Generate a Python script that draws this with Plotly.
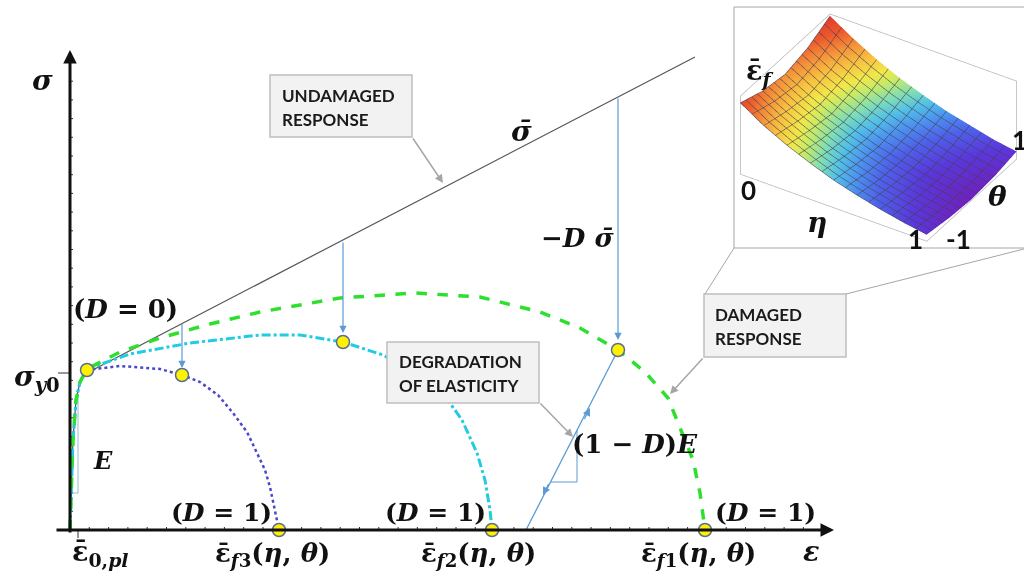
import numpy as np
import plotly.graph_objects as go

# ---------------- data (strain eps, stress sigma in arbitrary units) ----------------
# undamaged (effective) response sigma-bar
eps_und = [0, 0.01, 0.03, 0.06, 0.10, 0.17, 6.25]
sig_und = [0, 0.40, 0.90, 1.30, 1.48, 1.57, 4.73]

# damaged response 1 (green dashed) -> eps_f1
eps_d1 = [0, 0.01, 0.03, 0.06, 0.10, 0.17, 0.50, 0.90, 1.40, 1.90, 2.70, 3.45, 4.10,
          4.70, 5.10, 5.48, 5.75, 5.98, 6.10, 6.23, 6.30, 6.35]
sig_d1 = [0, 0.40, 0.90, 1.30, 1.48, 1.61, 1.78, 1.92, 2.06, 2.18, 2.32, 2.37, 2.33,
          2.18, 2.02, 1.80, 1.58, 1.32, 1.03, 0.70, 0.37, 0]

# damaged response 2 (cyan dash-dot) -> eps_f2
eps_d2 = [0, 0.01, 0.03, 0.06, 0.10, 0.17, 0.60, 1.20, 1.90, 2.30, 2.73, 3.13, 3.50,
          3.75, 3.92, 4.07, 4.15, 4.20, 4.22]
sig_d2 = [0, 0.40, 0.90, 1.30, 1.48, 1.61, 1.76, 1.87, 1.95, 1.95, 1.88, 1.75, 1.54,
          1.34, 1.10, 0.77, 0.50, 0.20, 0]

# damaged response 3 (blue dotted) -> eps_f3
eps_d3 = [0, 0.01, 0.03, 0.06, 0.10, 0.17, 0.50, 0.90, 1.12, 1.30, 1.48, 1.63, 1.77,
          1.87, 1.95, 2.00, 2.07, 2.09]
sig_d3 = [0, 0.40, 0.90, 1.30, 1.48, 1.60, 1.64, 1.61, 1.55, 1.48, 1.35, 1.17, 0.98,
          0.77, 0.60, 0.43, 0.10, 0]

# highlighted states (yellow markers)
eps_pts = [0.17, 1.12, 2.73, 5.48, 2.09, 4.22, 6.35]
sig_pts = [1.60, 1.55, 1.88, 1.80, 0, 0, 0]

# damage drops  -D*sigma_bar  (from undamaged line down to damaged state)
eps_drop = [1.12, 2.73, 5.48]
sig_drop_top = [2.08, 2.89, 4.33]
sig_drop_tip = [1.62, 1.97, 1.90]

# elastic unloading with degraded modulus (1-D)E
eps_unl = [5.48, 4.56]
sig_unl = [1.80, 0.0]

# slope triangles
eps_triE = [0.02, 0.08, 0.08]
sig_triE = [0.37, 0.37, 1.35]
eps_triD = [4.81, 5.07, 5.07]
sig_triD = [0.48, 0.48, 1.00]

# inset surface eps_f(eta, theta)
eta_vals = [0, 0.125, 0.25, 0.375, 0.5, 0.625, 0.75, 0.875, 1.0]
theta_vals = [-1, -0.5, 0, 0.5, 1]
epsf_table = [
    [0.95, 0.86, 0.82, 0.88, 1.00],
    [0.80, 0.73, 0.69, 0.74, 0.85],
    [0.68, 0.62, 0.58, 0.63, 0.72],
    [0.58, 0.52, 0.49, 0.53, 0.61],
    [0.49, 0.44, 0.41, 0.45, 0.52],
    [0.42, 0.37, 0.35, 0.38, 0.44],
    [0.36, 0.32, 0.29, 0.32, 0.38],
    [0.31, 0.27, 0.25, 0.27, 0.32],
    [0.27, 0.23, 0.21, 0.23, 0.28],
]

# ---------------- layout helpers (pixel placement -> data coords) ----------------
X0, Y0, S = 70, 530, 100.0
def dx(px):
    return (px - X0) / S
def dy(py):
    return (Y0 - py) / S

SERIF = "DejaVu Serif"
SANS = "Lato"
BLUE = "#5B9BD5"
GRAY = "#A6A6A6"

fig = go.Figure()

# axis ticks
tk_x, tk_y = [], []
for e in np.arange(0.193, 7.5, 0.193):
    tk_x += [e, e, None]
    tk_y += [0, 0.03, None]
for s in np.arange(0.187, 4.6, 0.187):
    tk_x += [0, 0.03, None]
    tk_y += [s, s, None]
tk_x += [dx(58), 0, None, dx(78), dx(78), None]
tk_y += [dy(373), dy(373), None, 0, dy(538), None]
fig.add_trace(go.Scatter(x=tk_x, y=tk_y, mode="lines", line=dict(color="#333", width=1),
                         hoverinfo="skip", showlegend=False))

# undamaged
fig.add_trace(go.Scatter(x=eps_und, y=sig_und, mode="lines",
                         line=dict(color="#555555", width=1.2), showlegend=False))
# slope triangles & unloading
fig.add_trace(go.Scatter(x=eps_triE, y=sig_triE, mode="lines",
                         line=dict(color="#9DB8D8", width=1), showlegend=False))
fig.add_trace(go.Scatter(x=eps_triD, y=sig_triD, mode="lines",
                         line=dict(color=BLUE, width=1), showlegend=False))
fig.add_trace(go.Scatter(x=eps_unl, y=sig_unl, mode="lines",
                         line=dict(color=BLUE, width=1.3), showlegend=False))
# damaged curves
fig.add_trace(go.Scatter(x=eps_d3, y=sig_d3, mode="lines",
                         line=dict(color="#4B48C8", width=2.5, dash="dot"), showlegend=False))
fig.add_trace(go.Scatter(x=eps_d2, y=sig_d2, mode="lines",
                         line=dict(color="#22CCE0", width=3, dash="dashdot"), showlegend=False))
fig.add_trace(go.Scatter(x=eps_d1, y=sig_d1, mode="lines",
                         line=dict(color="#2EE02E", width=3.5, dash="dash"), showlegend=False))
# markers
fig.add_trace(go.Scatter(x=eps_pts, y=sig_pts, mode="markers", cliponaxis=False,
                         marker=dict(color="#FFF200", size=13,
                                     line=dict(color="#5A6F8F", width=1.5)),
                         showlegend=False))

# inset surface
fig.add_trace(go.Surface(
    x=eta_vals, y=theta_vals, z=np.array(epsf_table).T, showscale=False,
    cmin=0.21, cmax=1.0,
    colorscale=[[0, '#7020C0'], [0.1, '#5A38DC'], [0.2, '#4E62EA'], [0.28, '#4C93F0'],
                [0.35, '#52C0E8'], [0.42, '#7EDDB8'], [0.50, '#C4EA6A'], [0.57, '#F2E84A'],
                [0.67, '#F8C040'], [0.77, '#F5923A'], [0.88, '#EC5A2E'], [1, '#E23A2A']],
    lighting=dict(ambient=0.95, diffuse=0.15, specular=0.0, roughness=1.0, fresnel=0),
    contours=dict(
        x=dict(show=True, start=0, end=1, size=1/16, color="rgba(40,40,50,0.9)", width=1),
        y=dict(show=True, start=-1, end=1, size=2/16, color="rgba(40,40,50,0.9)", width=1)),
    hoverinfo="skip", scene="scene"))

ann = []
def arrow(x0, y0, x1, y1, color, width=1, head=2, size=1.0):
    ann.append(dict(x=x1, y=y1, ax=x0, ay=y0, xref="x", yref="y", axref="x", ayref="y",
                    text="", showarrow=True, arrowcolor=color, arrowwidth=width,
                    arrowhead=head, arrowsize=size))

def label(px, py, text, size=26, family=SERIF, xanchor="center", color="#111"):
    ann.append(dict(x=dx(px), y=dy(py), xref="x", yref="y", text=text, showarrow=False,
                    xanchor=xanchor, yanchor="middle",
                    font=dict(family=family, size=size, color=color)))

# axes with arrows
arrow(0, dy(534), 0, dy(50), "#111", width=3, head=2, size=0.9)
arrow(dx(55), 0, dx(834), 0, "#111", width=3, head=2, size=0.9)

# damage drop arrows
for e, s0, s1 in zip(eps_drop, sig_drop_top, sig_drop_tip):
    arrow(e, s0, e, s1, BLUE, width=1.2, head=2, size=1.2)

# arrowheads along unloading path
arrow(dx(583.6), dy(420.5), dx(590), dy(408), BLUE, width=1.3, head=2, size=1.2)
arrow(dx(549.4), dy(482.5), dx(543), dy(495), BLUE, width=1.3, head=2, size=1.2)

# callout boxes
shapes = []
def box(x0, y0, x1, y1, lines, tx, tys, ax0, ay0, ax1, ay1):
    shapes.append(dict(type="rect", xref="x", yref="y", x0=dx(x0), x1=dx(x1),
                       y0=dy(y0), y1=dy(y1), fillcolor="#F2F2F2",
                       line=dict(color="#BFBFBF", width=1.5), layer="above"))
    for t, ty in zip(lines, tys):
        label(tx, ty, "<b>" + t + "</b>", size=17, family=SANS, xanchor="left", color="#1a1a1a")
    arrow(dx(ax0), dy(ay0), dx(ax1), dy(ay1), GRAY, width=1.5, head=2, size=1.1)

box(270, 75, 412, 137, ["UNDAMAGED", "RESPONSE"], 280, [95, 119], 412, 137, 443, 183)
box(387, 342, 539, 403, ["DEGRADATION", "OF ELASTICITY"], 397, [361, 385], 539, 402, 573, 437)
box(704, 294, 846, 357, ["DAMAGED", "RESPONSE"], 713, [314, 338], 704, 357, 670, 394)

# callout lines toward inset and inset border
shapes.append(dict(type="line", xref="x", yref="y", x0=dx(705), y0=dy(294), x1=dx(734), y1=dy(248),
                   line=dict(color=GRAY, width=1)))
shapes.append(dict(type="line", xref="x", yref="y", x0=dx(846), y0=dy(294), x1=dx(1024), y1=dy(249),
                   line=dict(color=GRAY, width=1)))
shapes.append(dict(type="rect", xref="x", yref="y", x0=dx(734), x1=dx(1030), y0=dy(248), y1=dy(7),
                   line=dict(color=GRAY, width=1)))

# math labels
label(42, 80, "<b><i>σ</i></b>", size=28)
label(521, 131, "<b><i>σ̄</i></b>", size=28)
label(577, 238, "<b>−<i>D</i> <i>σ̄</i></b>", size=26)
label(125, 309, "<b>(<i>D</i> = 0)</b>", size=26)
label(37, 378, "<b><i>σ</i><sub><i>y</i>0</sub></b>", size=28)
label(103, 460, "<b><i>E</i></b>", size=24)
label(221, 512, "<b>(<i>D</i> = 1)</b>", size=25)
label(435, 512, "<b>(<i>D</i> = 1)</b>", size=25)
label(765, 512, "<b>(<i>D</i> = 1)</b>", size=25)
label(635, 444, "<b>(1 − <i>D</i>)<i>E</i></b>", size=26)
label(100, 553, "<b>ε̄<sub>0,<i>pl</i></sub></b>", size=27)
label(272, 554, "<b>ε̄<sub><i>f</i>3</sub>(<i>η</i>, <i>θ</i>)</b>", size=26)
label(478, 554, "<b>ε̄<sub><i>f</i>2</sub>(<i>η</i>, <i>θ</i>)</b>", size=26)
label(698, 554, "<b>ε̄<sub><i>f</i>1</sub>(<i>η</i>, <i>θ</i>)</b>", size=26)
label(811, 551, "<b><i>ε</i></b>", size=27)

# inset labels
label(759, 72, "<b>ε̄<sub><i>f</i></sub></b>", size=27)
label(748, 190, "<b>0</b>", size=26, family=SANS)
label(817, 222, "<b><i>η</i></b>", size=28)
label(915, 239, "<b>1</b>", size=26, family=SANS)
label(958, 239, "<b>-1</b>", size=26, family=SANS)
label(997, 196, "<b><i>θ</i></b>", size=28)
label(1019, 140, "<b>1</b>", size=26, family=SANS)

ax3 = dict(showticklabels=False, title=dict(text=""), showbackground=False, showgrid=False,
           zeroline=False, showline=True, linecolor="#B4B4B4", linewidth=1.5, mirror=True,
           showspikes=False)
fig.update_layout(
    width=1024, height=587, margin=dict(l=0, r=0, t=0, b=0),
    paper_bgcolor="white", plot_bgcolor="white", showlegend=False,
    xaxis=dict(range=[dx(0), dx(1024)], visible=False, fixedrange=True),
    yaxis=dict(range=[dy(587), dy(0)], visible=False, fixedrange=True),
    annotations=ann, shapes=shapes,
    scene=dict(
        domain=dict(x=[0.718, 1.0], y=[0.58, 0.985]),
        xaxis=dict(ax3, range=[0, 1]),
        yaxis=dict(ax3, range=[-1, 1]),
        zaxis=dict(ax3, range=[0.2, 1.02]),
        aspectmode="manual", aspectratio=dict(x=1.85, y=1.42, z=0.8),
        camera=dict(eye=dict(x=0.48, y=-0.75, z=0.62), center=dict(x=0.01, y=0, z=0),
                    up=dict(x=0, y=0, z=1), projection=dict(type="orthographic")),
        bgcolor="rgba(0,0,0,0)"),
)

fig.write_html("out.html")
